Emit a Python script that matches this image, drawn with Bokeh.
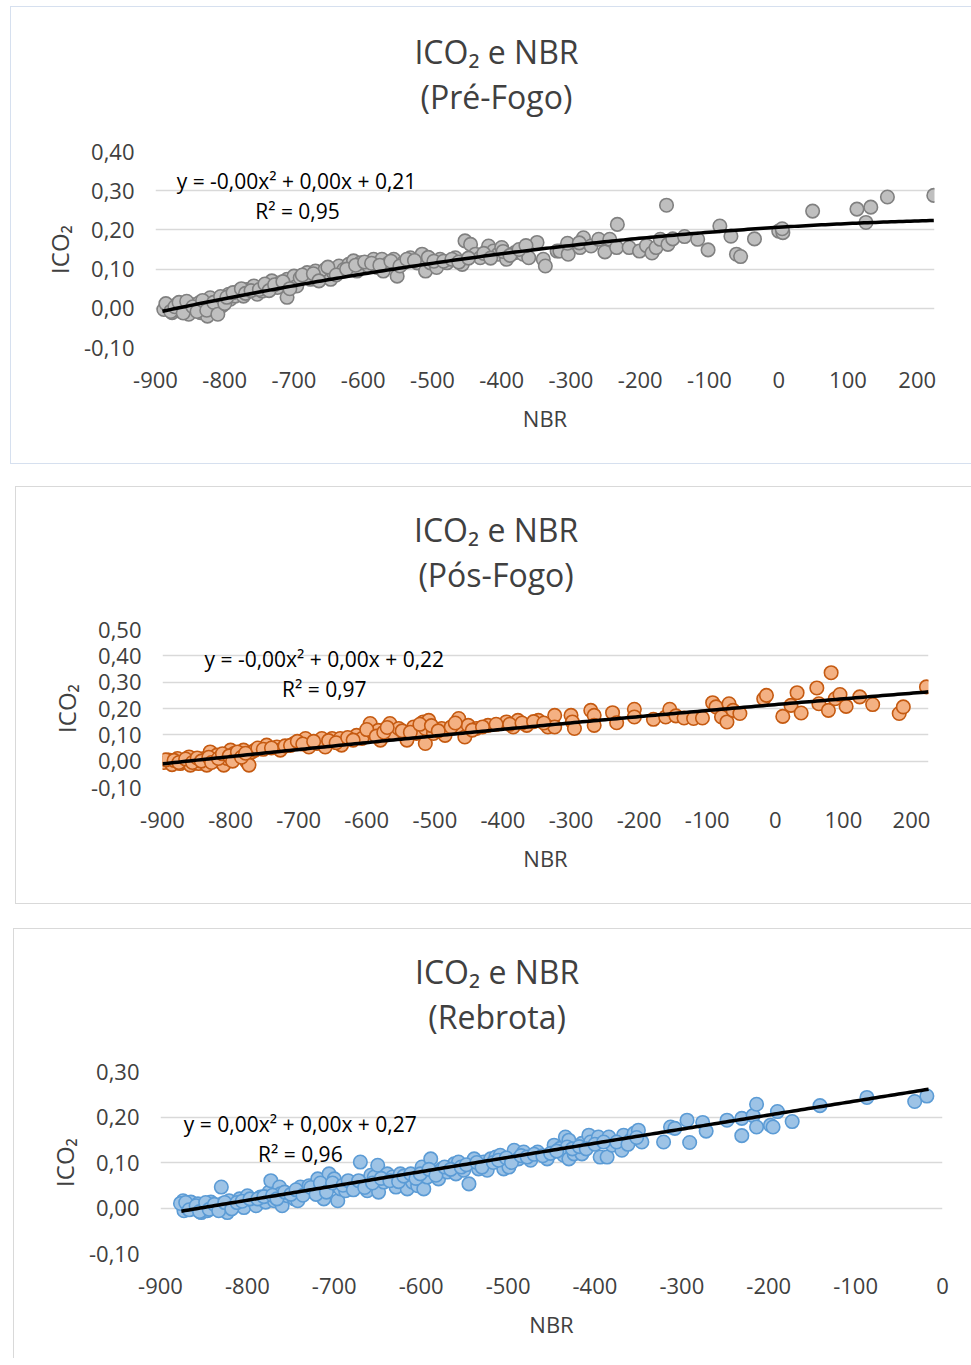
import numpy as np
from bokeh.plotting import figure
from bokeh.models import Range1d, FixedTicker, CustomJSTickFormatter, Label
from bokeh.embed import file_html
from bokeh.resources import INLINE

# ---------------- data ----------------
pre_x = [-888, -881, -876, -869, -864, -859, -852, -849, -842, -837, -835, -828, -825, -821, -818,
         -813, -809, -804, -794, -792, -785, -780, -773, -768, -758, -753, -746, -739, -732, -724,
         -720, -710, -710, -700, -696, -691, -681, -676, -669, -660, -655, -647, -643, -635, -628,
         -621, -614, -609, -604, -592, -585, -580, -573, -571, -563, -556, -551, -542, -532, -522,
         -515, -510, -503, -494, -489, -479, -467, -457, -453, -445, -438, -431, -419, -412, -405,
         -400, -393, -381, -369, -361, -349, -340, -337, -320, -316, -304, -305, -287, -282, -288,
         -271, -260, -251, -244, -234, -233, -216, -201, -191, -183, -177, -171, -162, -160, -153,
         -136, -117, -102, -85, -69, -61, -55, -35, 0, 6, 5, 49, 113, 126, 133, 157, 224]
pre_y = [-0.003, 0.006, -0.011, 0.010, -0.007, 0.002, -0.015, 0.010, -0.003, 0.014, -0.011, 0.006, -0.020, 0.027, -0.003,
         0.010, 0.019, 0.006, 0.036, 0.023, 0.031, 0.044, 0.031, 0.048, 0.057, 0.036, 0.044, 0.057, 0.070, 0.053,
         0.065, 0.074, 0.028, 0.082, 0.057, 0.078, 0.091, 0.074, 0.095, 0.082, 0.099, 0.074, 0.091, 0.108, 0.099,
         0.112, 0.121, 0.095, 0.116, 0.108, 0.125, 0.104, 0.125, 0.095, 0.116, 0.125, 0.082, 0.116, 0.129, 0.116,
         0.138, 0.095, 0.116, 0.104, 0.125, 0.116, 0.129, 0.112, 0.172, 0.163, 0.138, 0.129, 0.159, 0.146, 0.138,
         0.155, 0.125, 0.142, 0.138, 0.129, 0.168, 0.125, 0.108, 0.146, 0.146, 0.138, 0.166, 0.155, 0.180, 0.167,
         0.159, 0.176, 0.144, 0.176, 0.155, 0.214, 0.155, 0.146, 0.160, 0.141, 0.155, 0.176, 0.263, 0.163, 0.177,
         0.183, 0.176, 0.149, 0.210, 0.184, 0.138, 0.132, 0.177, 0.197, 0.193, 0.203, 0.248, 0.253, 0.219, 0.258, 0.284, 0.288]
pre_band_x = [-885, -878, -872, -866, -860, -855, -846, -840, -832, -826, -816, -810, -806, -800, -797,
              -788, -776, -770, -762, -750, -742, -736, -728, -716, -706, -688, -672, -664, -651, -639,
              -624, -611, -598, -588, -576, -560, -547, -537, -526, -506, -498, -484, -472, -462, -448,
              -426, -416, -398, -388, -375, -365]
pre_band_y = [0.012, -0.008, 0.004, 0.015, -0.012, 0.018, 0.004, -0.008, 0.020, -0.005, 0.015, -0.015, 0.030, 0.012, 0.028,
              0.040, 0.050, 0.038, 0.045, 0.048, 0.062, 0.045, 0.060, 0.068, 0.050, 0.085, 0.088, 0.070, 0.105, 0.085,
              0.100, 0.110, 0.118, 0.115, 0.110, 0.120, 0.108, 0.125, 0.122, 0.130, 0.120, 0.120, 0.125, 0.118, 0.128,
              0.140, 0.128, 0.145, 0.135, 0.150, 0.160]

pos_x = [-898, -891, -886, -878, -874, -869, -861, -859, -852, -847, -839, -835, -830, -825, -820,
         -815, -810, -805, -800, -795, -788, -781, -776, -773, -769, -764, -747, -732, -727, -707,
         -698, -690, -685, -673, -666, -661, -651, -639, -637, -615, -607, -595, -590, -583, -580,
         -566, -561, -553, -541, -531, -527, -517, -514, -514, -509, -502, -490, -485, -465, -461,
         -456, -451, -439, -422, -395, -385, -378, -365, -348, -334, -324, -324, -300, -298, -295,
         -271, -266, -266, -239, -233, -207, -207, -179, -161, -155, -146, -134, -120, -107, -92,
         -87, -79, -71, -68, -62, -52, -17, -13, 11, 23, 32, 38, 61, 64, 82,
         78, 88, 95, 104, 124, 143, 182, 188, 222]
pos_y = [-0.005, 0.004, -0.013, 0.010, -0.009, 0.000, 0.016, -0.015, 0.004, -0.009, 0.010, -0.015, 0.035, 0.004, 0.023,
         -0.003, -0.015, 0.010, 0.042, 0.029, 0.023, 0.042, -0.003, -0.015, 0.035, 0.042, 0.061, 0.054, 0.042, 0.067,
         0.073, 0.086, 0.054, 0.067, 0.086, 0.054, 0.086, 0.086, 0.061, 0.098, 0.086, 0.143, 0.105, 0.117, 0.080,
         0.143, 0.105, 0.124, 0.080, 0.130, 0.105, 0.149, 0.124, 0.067, 0.155, 0.105, 0.124, 0.098, 0.162, 0.124,
         0.092, 0.136, 0.124, 0.136, 0.149, 0.130, 0.155, 0.136, 0.155, 0.130, 0.174, 0.130, 0.174, 0.149, 0.124,
         0.193, 0.174, 0.136, 0.184, 0.146, 0.197, 0.168, 0.159, 0.168, 0.197, 0.172, 0.164, 0.162, 0.164, 0.222,
         0.206, 0.168, 0.149, 0.218, 0.193, 0.181, 0.237, 0.250, 0.170, 0.212, 0.260, 0.183, 0.278, 0.218, 0.336,
         0.193, 0.237, 0.253, 0.208, 0.244, 0.215, 0.181, 0.206, 0.282]
pos_band_x = [-895, -883, -876, -866, -856, -849, -843, -832, -828, -818, -812, -802, -797, -790, -784,
              -778, -760, -752, -740, -720, -712, -702, -694, -678, -656, -645, -628, -620, -600, -586,
              -575, -570, -548, -536, -522, -505, -495, -476, -470, -445, -430, -410, -390, -372, -355, -340]
pos_band_y = [0.005, 0.003, -0.005, 0.008, -0.005, 0.012, 0.000, 0.015, -0.005, 0.010, 0.028, 0.020, 0.000, 0.035, 0.015,
              0.030, 0.050, 0.045, 0.050, 0.058, 0.060, 0.075, 0.065, 0.075, 0.078, 0.070, 0.090, 0.080, 0.120, 0.095,
              0.110, 0.128, 0.115, 0.110, 0.140, 0.135, 0.115, 0.130, 0.145, 0.118, 0.130, 0.140, 0.140, 0.145, 0.150, 0.145]

reb_x = [-874, -873, -869, -865, -861, -857, -853, -850, -846, -842, -836, -830, -829, -823, -821,
         -815, -809, -804, -800, -794, -790, -785, -779, -775, -773, -769, -763, -762, -760, -754,
         -746, -742, -739, -733, -729, -725, -719, -714, -712, -706, -704, -700, -696, -693, -687,
         -681, -675, -670, -668, -662, -658, -654, -650, -649, -643, -639, -633, -629, -624, -618,
         -616, -610, -604, -599, -597, -593, -589, -585, -580, -576, -570, -562, -560, -557, -551,
         -545, -539, -534, -528, -524, -520, -514, -509, -505, -499, -493, -488, -482, -474, -466,
         -455, -447, -440, -434, -430, -432, -436, -430, -424, -415, -415, -407, -405, -396, -394,
         -386, -384, -380, -369, -367, -359, -355, -350, -346, -321, -313, -308, -294, -291, -276,
         -272, -248, -231, -231, -218, -214, -214, -198, -195, -190, -173, -141, -87, -32, -18]
reb_y = [0.016, -0.006, 0.005, 0.013, -0.002, 0.009, -0.010, 0.005, -0.006, 0.013, 0.001, 0.046, 0.009, -0.010, 0.016,
         0.005, 0.020, 0.001, 0.027, 0.016, 0.005, 0.024, 0.013, 0.035, 0.060, 0.016, 0.046, 0.031, 0.005, 0.027,
         0.020, 0.016, 0.046, 0.035, 0.049, 0.038, 0.064, 0.046, 0.020, 0.075, 0.049, 0.064, 0.016, 0.042, 0.038,
         0.053, 0.049, 0.101, 0.057, 0.038, 0.072, 0.068, 0.094, 0.035, 0.057, 0.075, 0.068, 0.046, 0.075, 0.064,
         0.042, 0.057, 0.049, 0.090, 0.042, 0.068, 0.108, 0.079, 0.064, 0.086, 0.079, 0.097, 0.075, 0.101, 0.083,
         0.053, 0.108, 0.086, 0.101, 0.083, 0.108, 0.112, 0.116, 0.086, 0.090, 0.127, 0.108, 0.123, 0.105, 0.123,
         0.108, 0.138, 0.131, 0.156, 0.149, 0.134, 0.116, 0.108, 0.119, 0.142, 0.119, 0.160, 0.145, 0.156, 0.112,
         0.112, 0.156, 0.138, 0.127, 0.160, 0.149, 0.164, 0.171, 0.145, 0.145, 0.178, 0.175, 0.193, 0.144, 0.188,
         0.169, 0.193, 0.197, 0.159, 0.203, 0.228, 0.178, 0.182, 0.178, 0.212, 0.190, 0.225, 0.243, 0.234, 0.246]
reb_band_x = [-877, -871, -867, -859, -855, -848, -844, -838, -833, -826, -818, -812, -806, -797, -788,
              -781, -771, -766, -757, -750, -744, -736, -727, -721, -716, -709, -702, -690, -684, -678,
              -672, -665, -656, -646, -636, -626, -620, -612, -606, -601, -591, -583, -573, -566, -554,
              -548, -536, -530, -517, -511, -502, -496, -485, -478, -470, -460, -451, -444, -426, -418,
              -410, -400, -390, -375, -362, -352]
reb_band_y = [0.010, 0.012, -0.004, 0.005, -0.008, 0.012, -0.003, 0.008, -0.006, 0.012, -0.002, 0.012, 0.015, 0.020, 0.020,
              0.025, 0.028, 0.020, 0.035, 0.030, 0.040, 0.028, 0.045, 0.030, 0.055, 0.035, 0.055, 0.050, 0.060, 0.040,
              0.060, 0.045, 0.055, 0.065, 0.060, 0.058, 0.070, 0.075, 0.065, 0.075, 0.085, 0.072, 0.090, 0.085, 0.090,
              0.095, 0.100, 0.090, 0.100, 0.105, 0.110, 0.100, 0.115, 0.112, 0.118, 0.115, 0.120, 0.125, 0.130, 0.135,
              0.130, 0.140, 0.145, 0.145, 0.140, 0.155]

# quadratic trendlines at a few x positions
pre_trend_x = [-890, -600, -300, 0, 224]
pre_trend_y = [-0.008, 0.089, 0.159, 0.207, 0.224]
pos_trend_x = [-900, -502, -139, 225]
pos_trend_y = [-0.009, 0.092, 0.187, 0.262]
reb_trend_x = [-876, -443, -16]
reb_trend_y = [-0.007, 0.129, 0.261]

x_ticks_a = [-900, -800, -700, -600, -500, -400, -300, -200, -100, 0, 100, 200]
x_ticks_b = [-900, -800, -700, -600, -500, -400, -300, -200, -100, 0]
y_ticks_pre = [-0.1, 0.0, 0.1, 0.2, 0.3, 0.4]
y_ticks_pos = [-0.1, 0.0, 0.1, 0.2, 0.3, 0.4, 0.5]
y_ticks_reb = [-0.1, 0.0, 0.1, 0.2, 0.3]

FONT = "Open Sans"
BW = 1.5  # panel border width (css)


def panel(xs, ys, fill, edge, trend, subtitle, eq, r2, xr, yr, xticks, yticks,
          border_xy, size, frame_box, title_pos, eq_pos, r2_pos, border_col, margin, sides):
    bx, by = border_xy
    fw, fh = size
    cx0, cy0 = bx + BW, by + BW          # canvas origin on the page
    fl, ft, fr, fb = frame_box             # wanted frame edges on the page
    p = figure(width=fw, height=fh, output_backend="svg", toolbar_location=None,
               x_range=Range1d(*xr), y_range=Range1d(*yr),
               min_border_left=int(round(fl - cx0)), min_border_right=int(round(cx0 + fw - fr)),
               min_border_top=int(round(ft - cy0)), min_border_bottom=int(round(cy0 + fh - fb)))
    p.margin = margin
    p.styles = {f"border-{s}": f"{BW}px solid {border_col}" for s in sides}
    p.outline_line_color = None
    p.background_fill_color = "white"
    p.border_fill_color = "white"

    def to_data(px, py):
        dx = xr[0] + (px - fl) / (fr - fl) * (xr[1] - xr[0])
        dy = yr[1] - (py - ft) / (fb - ft) * (yr[1] - yr[0])
        return dx, dy

    p.xgrid.visible = False
    p.ygrid.grid_line_color = "#d9d9d9"
    p.ygrid.grid_line_width = 1.5
    p.ygrid.ticker = FixedTicker(ticks=yticks)

    p.xaxis.ticker = FixedTicker(ticks=xticks)
    p.yaxis.ticker = FixedTicker(ticks=yticks)
    p.xaxis.formatter = CustomJSTickFormatter(code="return Math.round(tick).toString();")
    p.yaxis.formatter = CustomJSTickFormatter(
        code="var v = Math.abs(tick) < 1e-9 ? 0 : tick; return v.toFixed(2).replace('.', ',');")
    for ax in (p.xaxis, p.yaxis):
        ax.axis_line_color = None
        ax.major_tick_line_color = None
        ax.minor_tick_line_color = None
        ax.major_tick_out = 0
        ax.major_tick_in = 0
        ax.major_label_text_font = FONT
        ax.major_label_text_font_size = "22px"
        ax.major_label_text_color = "#404040"
        ax.axis_label_text_font = FONT
        ax.axis_label_text_font_style = "normal"
        ax.axis_label_text_color = "#404040"
    p.xaxis.axis_label = "NBR"
    p.xaxis.axis_label_text_font_size = "22px"
    p.yaxis.axis_label = "ICO₂"
    p.yaxis.axis_label_text_font_size = "24px"
    p.xaxis.major_label_standoff = 24
    p.xaxis.axis_label_standoff = 12
    p.yaxis.major_label_standoff = 21
    p.yaxis.axis_label_standoff = 5

    p.scatter(xs, ys, size=13.5, fill_color=fill, line_color=edge, line_width=1.6)

    tx_, ty_ = trend
    coef = np.polyfit(np.array(tx_, float), np.array(ty_, float), 2)
    lx = np.linspace(tx_[0], tx_[-1], 200)
    p.line(lx, np.polyval(coef, lx), line_color="black", line_width=3.5)

    tkw = dict(text_align="center", text_baseline="middle", text_font=FONT,
               text_font_size="32px", text_color="#404040")
    tx, ty1 = to_data(title_pos[0], title_pos[1])
    _, ty2 = to_data(title_pos[0], title_pos[2])
    p.add_layout(Label(x=tx, y=ty1, text="ICO₂ e NBR", **tkw), "above")
    p.add_layout(Label(x=tx, y=ty2, text=subtitle, **tkw), "above")

    ex, ey = to_data(*eq_pos)
    p.add_layout(Label(x=ex, y=ey, text=eq, text_align="center", text_baseline="middle",
                       text_font=FONT, text_font_size="21px", text_color="#000000"))
    rx, ry = to_data(*r2_pos)
    p.add_layout(Label(x=rx, y=ry, text=r2, text_align="center", text_baseline="middle",
                       text_font=FONT, text_font_size="21px", text_color="#000000"))
    return p


p1 = panel(pre_x + pre_band_x, pre_y + pre_band_y, "#bfbfbf", "#808080", (pre_trend_x, pre_trend_y),
           "(Pré-Fogo)", "y = -0,00x² + 0,00x + 0,21", "R² = 0,95",
           (-900, 225), (-0.1, 0.4), x_ticks_a, y_ticks_pre,
           (10, 6), (961, 458), (155, 152, 934, 348),
           (496, 52, 97), (296, 181), (297, 211), "#d6e0ef", (6, 0, 22, 10),
           ("top", "left", "bottom"))
p2 = panel(pos_x + pos_band_x, pos_y + pos_band_y, "#f4b183", "#c55a11", (pos_trend_x, pos_trend_y),
           "(Pós-Fogo)", "y = -0,00x² + 0,00x + 0,22", "R² = 0,97",
           (-900, 225), (-0.1, 0.5), x_ticks_a, y_ticks_pos,
           (15, 487), (956, 418), (162, 631, 929, 789),
           (496, 531, 576), (324, 660), (324, 690), "#d9d9d9", (0, 0, 24, 15),
           ("top", "left", "bottom"))
p3 = panel(reb_x + reb_band_x, reb_y + reb_band_y, "#9dc3e6", "#5b9bd5", (reb_trend_x, reb_trend_y),
           "(Rebrota)", "y = 0,00x² + 0,00x + 0,27", "R² = 0,96",
           (-900, 0), (-0.1, 0.3), x_ticks_b, y_ticks_reb,
           (13, 929), (958, 430), (160, 1073, 943, 1254),
           (497, 974, 1018), (300, 1125), (300, 1155), "#d9d9d9", (0, 0, 0, 13),
           ("top", "left"))

# separate roots so that Bokeh does not align the three frames with each other
open("out.html", "w").write(file_html([p1, p2, p3], INLINE))
